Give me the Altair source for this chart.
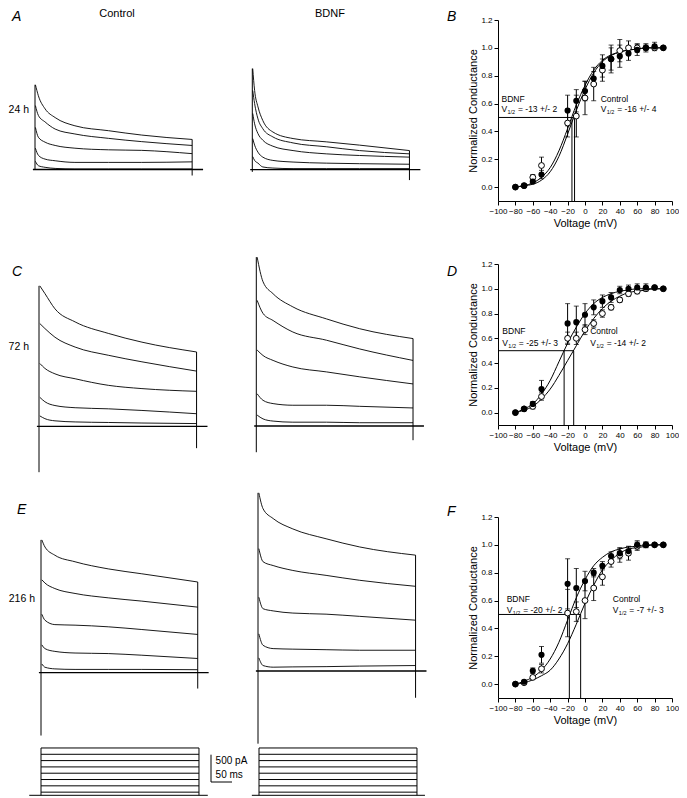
import altair as alt
import pandas as pd

FONT = "Liberation Sans"
KT = 2.38   # ms per pixel (50 ms scale bar ~ 21 px)
KI = 18.3   # pA per pixel (500 pA scale bar ~ 27 px)
KV = 3.17   # mV per pixel in the protocol panels

# ---------------- current traces (5 per panel, largest first) ----------------
A_ctrl_t = [1, 8, 24, 48, 95, 175, 254, 374]
A_ctrl_I = [
    [1550, 1350, 1110, 950, 800, 710, 630, 550],
    [1170, 990, 870, 740, 650, 570, 510, 440],
    [770, 590, 500, 440, 390, 360, 350, 290],
    [390, 260, 190, 160, 130, 130, 130, 140],
    [150, 70, 40, 20, 10, 10, 10, 10],
]
A_ctrl_spike = [0, -110]
A_bdnf_t = [1, 5.5, 13.5, 25, 49, 97, 176, 255, 374]
A_bdnf_I = [
    [1850, 1450, 1150, 900, 690, 570, 510, 450, 350],
    [1450, 1210, 930, 750, 600, 490, 420, 350, 290],
    [1030, 840, 660, 540, 430, 350, 290, 260, 230],
    [570, 450, 320, 230, 170, 140, 120, 110, 100],
    [240, 170, 120, 50, 30, 20, 20, 20, 20],
]
A_bdnf_spike = [-40, -190]
C_ctrl_t = [2, 14, 38, 86, 165, 245, 375]
C_ctrl_I = [
    [2570, 2430, 2150, 1910, 1700, 1540, 1360],
    [1880, 1790, 1630, 1450, 1300, 1180, 1010],
    [1150, 1060, 960, 870, 750, 690, 640],
    [530, 450, 380, 340, 320, 290, 230],
    [190, 140, 100, 80, 70, 60, 50],
]
C_ctrl_spike = [-840, -400]
C_bdnf_t = [2, 16, 40, 87, 167, 246, 373]
C_bdnf_I = [
    [3090, 2640, 2420, 2180, 1960, 1780, 1600],
    [2300, 2060, 1930, 1720, 1570, 1410, 1200],
    [1390, 1290, 1200, 1080, 990, 900, 770],
    [590, 470, 410, 380, 380, 360, 330],
    [200, 130, 90, 70, 70, 60, 60],
]
C_bdnf_spike = [-480, -260]
E_ctrl_t = [2, 9.5, 33, 81, 160, 240, 373]
E_ctrl_I = [
    [2430, 2300, 2150, 2030, 1900, 1810, 1660],
    [1700, 1640, 1540, 1450, 1370, 1310, 1200],
    [1070, 960, 880, 870, 840, 790, 700],
    [510, 440, 390, 360, 350, 320, 260],
    [160, 100, 70, 60, 60, 60, 55],
]
E_ctrl_spike = [-1150, -290]
E_bdnf_t = [2, 12, 36, 83, 162, 242, 375]
E_bdnf_I = [
    [3260, 2970, 2790, 2600, 2420, 2270, 2120],
    [2240, 2000, 1930, 1840, 1750, 1660, 1550],
    [1350, 1140, 1100, 1060, 1040, 1000, 930],
    [680, 470, 410, 400, 390, 380, 380],
    [240, 100, 70, 75, 80, 90, 100],
]
E_bdnf_spike = [-1330, -490]
TRACE_BASE = [-5, 26]   # baseline drawn from 5 ms before onset to 26 ms after the step

# ---------------- conductance-voltage data ----------------
V = [-80, -70, -60, -50, -20, -10, 0, 10, 20, 30, 40, 50, 60, 70, 80, 90]
VFIT = [-80, -70, -60, -50, -40, -30, -20, -10, 0, 10, 20, 30, 40, 50, 60, 70, 80, 90]

B_bdnf = [0.0, 0.01, 0.04, 0.09, 0.55, 0.62, 0.69, 0.78, 0.87, 0.92, 0.94, 0.96, 0.985, 1.0, 1.01, 1.0]
B_bdnf_err = [0, 0.01, 0.01, 0.03, 0.11, 0.08, 0.07, 0.05, 0.08, 0.1, 0.08, 0.05, 0.04, 0.03, 0.03, 0]
B_ctrl = [0.0, 0.01, 0.07, 0.155, 0.46, 0.51, 0.64, 0.74, 0.84, 0.92, 0.98, 1.0, 1.0, 1.0, 1.0, 1.0]
B_ctrl_err = [0, 0.01, 0.02, 0.06, 0.1, 0.15, 0.12, 0.12, 0.08, 0.08, 0.08, 0.05, 0.03, 0.02, 0.01, 0]
B_fit_1 = [0.0, 0.01, 0.03, 0.07, 0.14, 0.26, 0.42, 0.59, 0.73, 0.84, 0.91, 0.95, 0.97, 0.985, 0.99, 1.0, 1.0, 1.0]
B_fit_2 = [0.0, 0.01, 0.02, 0.05, 0.11, 0.22, 0.38, 0.55, 0.70, 0.82, 0.90, 0.945, 0.97, 0.985, 0.99, 1.0, 1.0, 1.0]
B_half = [-15, -12]
B_text = {"BDNF": (-96, 0.63, 0.56, "= -13 +/- 2"), "Control": (18, 0.63, 0.56, "= -16 +/- 4")}

D_bdnf = [0.0, 0.03, 0.07, 0.19, 0.72, 0.73, 0.79, 0.85, 0.90, 0.93, 0.99, 1.0, 1.01, 1.01, 1.01, 1.0]
D_bdnf_err = [0, 0.01, 0.02, 0.07, 0.16, 0.13, 0.09, 0.06, 0.05, 0.04, 0.03, 0.03, 0.03, 0.03, 0.01, 0]
D_ctrl = [0.0, 0.03, 0.05, 0.13, 0.60, 0.60, 0.67, 0.72, 0.80, 0.85, 0.91, 0.96, 0.98, 1.0, 1.01, 1.0]
D_ctrl_err = [0, 0.01, 0.02, 0.03, 0.05, 0.05, 0.04, 0.03, 0.03, 0.02, 0.02, 0.02, 0.02, 0.01, 0.01, 0]
D_fit_1 = [0.0, 0.03, 0.07, 0.15, 0.26, 0.41, 0.56, 0.69, 0.80, 0.88, 0.93, 0.96, 0.98, 0.99, 1.0, 1.0, 1.0, 1.0]
D_fit_2 = [0.0, 0.02, 0.05, 0.11, 0.19, 0.30, 0.42, 0.54, 0.66, 0.76, 0.84, 0.90, 0.94, 0.97, 0.98, 0.99, 1.0, 1.0]
D_half = [-24, -13]
D_text = {"BDNF": (-95, 0.66, 0.56, "= -25 +/- 3"), "Control": (6, 0.66, 0.56, "= -14 +/- 2")}

F_bdnf = [0.0, 0.017, 0.096, 0.21, 0.72, 0.69, 0.74, 0.80, 0.85, 0.92, 0.94, 0.955, 1.0, 1.0, 1.0, 1.0]
F_bdnf_err = [0, 0.01, 0.02, 0.06, 0.18, 0.14, 0.07, 0.03, 0.03, 0.03, 0.04, 0.03, 0.03, 0.02, 0.01, 0]
F_ctrl = [0.0, 0.01, 0.048, 0.11, 0.51, 0.52, 0.60, 0.69, 0.77, 0.88, 0.925, 0.94, 0.99, 1.0, 1.0, 1.0]
F_ctrl_err = [0, 0.01, 0.01, 0.03, 0.17, 0.07, 0.13, 0.09, 0.06, 0.04, 0.05, 0.05, 0.03, 0.02, 0.01, 0]
F_fit_1 = [0.0, 0.02, 0.05, 0.10, 0.18, 0.30, 0.46, 0.62, 0.75, 0.85, 0.91, 0.95, 0.97, 0.985, 0.99, 1.0, 1.0, 1.0]
F_fit_2 = [0.0, 0.01, 0.03, 0.06, 0.10, 0.18, 0.29, 0.43, 0.58, 0.71, 0.82, 0.89, 0.94, 0.97, 0.98, 0.99, 1.0, 1.0]
F_half = [-18, -5]
F_text = {"BDNF": (-90, 0.61, 0.53, "= -20 +/- 2"), "Control": (32, 0.61, 0.53, "= -7 +/- 3")}

# ---------------- voltage protocol and scale bar ----------------
PROT_LEVELS = [-70, -50, -30, -10, 10, 30, 50, 70]
PROT_HOLD = -80
PROT_DUR = 376
PROT_CTRL_EXT = [-28, 21]
PROT_BDNF_EXT = [-17, 19]
SCALE_PA = 500
SCALE_MS = 50

# ---------------- layout (pixels) ----------------
ROW_TOP = [18, 262, 515, 746]
ROW_H = [244, 253, 231, 47]
COL_LEFT = [25, 242, 498]
COL_W = [217, 256, 174]
GV_H = [181, 161, 181]


def text_layer(txt, x, y, size, align="left", baseline="middle", style="normal"):
    return alt.Chart(pd.DataFrame({"s": [txt]})).mark_text(
        align=align, baseline=baseline, fontSize=size, fontStyle=style, color="black"
    ).encode(x=alt.value(x), y=alt.value(y), text="s:N")


def trace_panel(t, I, spike, row, col, onset_x, base_y, texts):
    left, w = COL_LEFT[col], COL_W[col]
    top, h = ROW_TOP[row], ROW_H[row]
    t0 = -(onset_x - left) * KT
    xsc = alt.Scale(domain=[t0, t0 + w * KT], nice=False, zero=False)
    i_top = (base_y - top) * KI
    ysc = alt.Scale(domain=[i_top - h * KI, i_top], nice=False, zero=False)
    rows = []
    for k, series in enumerate(I):
        for j, (tt, ii) in enumerate(zip(t, series)):
            rows.append({"k": k, "j": j, "t": tt, "I": ii})
    df = pd.DataFrame(rows)
    t_end = t[-1]

    def X(f):
        return alt.X(f, scale=xsc, axis=None)

    def Y(f):
        return alt.Y(f, scale=ysc, axis=None)

    lines = alt.Chart(df).mark_line(color="black", strokeWidth=0.9, interpolate="monotone").encode(
        x=X("t:Q"), y=Y("I:Q"), detail="k:N", order="j:Q")
    vdf = pd.DataFrame({"t": [0, t_end], "a": [spike[0], spike[1]],
                        "b": [max(s[0] for s in I), I[0][-1]]})
    vr = alt.Chart(vdf).mark_rule(color="black", strokeWidth=1).encode(x=X("t:Q"), y=Y("a:Q"), y2="b:Q")
    bdf = pd.DataFrame({"a": [TRACE_BASE[0]], "b": [t_end + TRACE_BASE[1]], "y": [0]})
    br = alt.Chart(bdf).mark_rule(color="black", strokeWidth=1.3).encode(x=X("a:Q"), x2="b:Q", y=Y("y:Q"))
    layers = [br, lines, vr] + [text_layer(*tx) for tx in texts]
    return alt.layer(*layers).properties(width=w, height=h)


def gv_panel(row, bd, bde, ct, cte, f1, f2, half, labels, letter, letter_y):
    xsc = alt.Scale(domain=[-100, 100], nice=False, zero=False)
    ysc = alt.Scale(domain=[-0.1, 1.2], nice=False, zero=False)
    xax = alt.Axis(values=list(range(-100, 101, 20)), title="Voltage (mV)", grid=False,
                   labelOverlap=False, labelFlush=False)
    yax = alt.Axis(values=[0, 0.2, 0.4, 0.6, 0.8, 1.0, 1.2], format=".1f",
                   title="Normalized Conductance", grid=False, labelOverlap=False, labelFlush=False)

    def X(f):
        return alt.X(f, scale=xsc, axis=xax)

    def Y(f):
        return alt.Y(f, scale=ysc, axis=yax)

    hdf = pd.DataFrame({"a": [-100], "b": [max(half)], "y": [0.5]})
    hr = alt.Chart(hdf).mark_rule(color="black", strokeWidth=1).encode(x=X("a:Q"), x2="b:Q", y=Y("y:Q"))
    vdf = pd.DataFrame({"v": half, "a": [-0.1, -0.1], "b": [0.5, 0.5]})
    vr = alt.Chart(vdf).mark_rule(color="black", strokeWidth=1).encode(x=X("v:Q"), y=Y("a:Q"), y2="b:Q")
    fdf = pd.DataFrame({"v": VFIT * 2, "g": f1 + f2, "c": ["1"] * len(VFIT) + ["2"] * len(VFIT)})
    fit = alt.Chart(fdf).mark_line(color="black", strokeWidth=1, interpolate="monotone").encode(
        x=X("v:Q"), y=Y("g:Q"), detail="c:N")
    rows = []
    for s, vals, errs in (("ctrl", ct, cte), ("bdnf", bd, bde)):
        for v, g, e in zip(V, vals, errs):
            rows.append({"s": s, "v": v, "g": g, "lo": g - e, "hi": g + e, "e": e})
    df = pd.DataFrame(rows)
    edf = df[df["e"] > 0]
    er = alt.Chart(edf).mark_rule(color="black", strokeWidth=1).encode(x=X("v:Q"), y=Y("lo:Q"), y2="hi:Q")
    cap_hi = alt.Chart(edf).mark_tick(color="black", orient="horizontal", size=5, thickness=1).encode(
        x=X("v:Q"), y=Y("hi:Q"))
    cap_lo = alt.Chart(edf).mark_tick(color="black", orient="horizontal", size=5, thickness=1).encode(
        x=X("v:Q"), y=Y("lo:Q"))
    op = alt.Chart(df[df["s"] == "ctrl"]).mark_circle(
        fill="white", stroke="black", strokeWidth=1, size=34, opacity=1).encode(x=X("v:Q"), y=Y("g:Q"))
    fl = alt.Chart(df[df["s"] == "bdnf"]).mark_circle(
        color="black", size=38, opacity=1).encode(x=X("v:Q"), y=Y("g:Q"))
    lrows = [{"name": k, "x": v[0], "y1": v[1], "y2": v[2], "rest": v[3]} for k, v in labels.items()]
    ldf = pd.DataFrame(lrows)
    t_name = alt.Chart(ldf).mark_text(align="left", baseline="middle", fontSize=8.5, color="black").encode(
        x=X("x:Q"), y=Y("y1:Q"), text="name:N")
    t_v = alt.Chart(ldf).mark_text(align="left", baseline="middle", fontSize=8.5, color="black").encode(
        x=X("x:Q"), y=Y("y2:Q"), text=alt.value("V"))
    t_sub = alt.Chart(ldf).mark_text(align="left", baseline="middle", fontSize=5.5, dx=6, dy=3,
                                     color="black").encode(x=X("x:Q"), y=Y("y2:Q"), text=alt.value("1/2"))
    t_rest = alt.Chart(ldf).mark_text(align="left", baseline="middle", fontSize=8.5, dx=16.5,
                                      color="black").encode(x=X("x:Q"), y=Y("y2:Q"), text="rest:N")
    let = text_layer(letter, -51, letter_y, 14, baseline="top", style="italic")
    return alt.layer(hr, vr, fit, er, cap_hi, cap_lo, op, fl, t_name, t_v, t_sub, t_rest, let).properties(
        width=COL_W[2], height=GV_H[row])


def prot_panel(col, onset_x, ext, with_scale):
    left, w = COL_LEFT[col], COL_W[col]
    top, h = ROW_TOP[3], ROW_H[3]
    t0 = -(onset_x - left) * KT
    xsc = alt.Scale(domain=[t0, t0 + w * KT], nice=False, zero=False)
    vb = PROT_HOLD + (793.3 - (top + h)) * KV
    ysc = alt.Scale(domain=[vb, vb + h * KV], nice=False, zero=False)
    hdf = pd.DataFrame({"a": [0] * len(PROT_LEVELS) + [ext[0]],
                        "b": [PROT_DUR] * len(PROT_LEVELS) + [PROT_DUR + ext[1]],
                        "v": PROT_LEVELS + [PROT_HOLD]})
    hl = alt.Chart(hdf).mark_rule(color="black", strokeWidth=1).encode(
        x=alt.X("a:Q", scale=xsc, axis=None), x2="b:Q", y=alt.Y("v:Q", scale=ysc, axis=None))
    vdf = pd.DataFrame({"a": [0, PROT_DUR], "lo": [PROT_HOLD] * 2, "hi": [max(PROT_LEVELS)] * 2})
    vl = alt.Chart(vdf).mark_rule(color="black", strokeWidth=1).encode(
        x=alt.X("a:Q", scale=xsc, axis=None), y=alt.Y("lo:Q", scale=ysc, axis=None), y2="hi:Q")
    if with_scale:
        sx0 = -(211 - left) * KT
        sxs = alt.Scale(domain=[sx0, sx0 + w * KT], nice=False, zero=False)
        sy1 = (780 - top) * KI
        sys = alt.Scale(domain=[sy1 - h * KI, sy1], nice=False, zero=False)
        sdf = pd.DataFrame({"x1": [0, 0], "x2": [0, SCALE_MS], "y1": [0, 0], "y2": [SCALE_PA, 0]})
        sb = alt.Chart(sdf).mark_rule(color="black", strokeWidth=1).encode(
            x=alt.X("x1:Q", scale=sxs, axis=None), x2="x2:Q",
            y=alt.Y("y1:Q", scale=sys, axis=None), y2="y2:Q")
        tdf = pd.DataFrame({"x": [11, 11], "y": [378, 134], "s": [f"{SCALE_PA} pA", f"{SCALE_MS} ms"]})
        st = alt.Chart(tdf).mark_text(align="left", baseline="middle", fontSize=10, color="black").encode(
            x=alt.X("x:Q", scale=sxs, axis=None), y=alt.Y("y:Q", scale=sys, axis=None), text="s:N")
        return alt.layer(hl, vl, sb, st).resolve_scale(x="independent", y="independent").properties(
            width=w, height=h)
    return alt.layer(hl, vl).properties(width=w, height=h)


A_c = trace_panel(A_ctrl_t, A_ctrl_I, A_ctrl_spike, 0, 0, 35, 167.5, [
    ("A", -13, -10, 14, "left", "top", "italic"),
    ("Control", 92, -6, 11, "center"),
    ("24 h", 4, 90, 10.5, "right"),
])
A_b = trace_panel(A_bdnf_t, A_bdnf_I, A_bdnf_spike, 0, 1, 252.3, 167.7, [
    ("BDNF", 88, -6, 11, "center"),
])
C_c = trace_panel(C_ctrl_t, C_ctrl_I, C_ctrl_spike, 1, 0, 39, 424.3, [
    ("C", -13, 1, 14, "left", "top", "italic"),
    ("72 h", 4, 83, 10.5, "right"),
])
C_b = trace_panel(C_bdnf_t, C_bdnf_I, C_bdnf_spike, 1, 1, 256.3, 424, [])
E_c = trace_panel(E_ctrl_t, E_ctrl_I, E_ctrl_spike, 2, 0, 41, 670.7, [
    ("E", -8, -14, 14, "left", "top", "italic"),
    ("216 h", 10, 82, 10.5, "right"),
])
E_b = trace_panel(E_bdnf_t, E_bdnf_I, E_bdnf_spike, 2, 1, 258, 669, [])

B_gv = gv_panel(0, B_bdnf, B_bdnf_err, B_ctrl, B_ctrl_err, B_fit_1, B_fit_2, B_half, B_text, "B", -10)
D_gv = gv_panel(1, D_bdnf, D_bdnf_err, D_ctrl, D_ctrl_err, D_fit_1, D_fit_2, D_half, D_text, "D", 1)
F_gv = gv_panel(2, F_bdnf, F_bdnf_err, F_ctrl, F_ctrl_err, F_fit_1, F_fit_2, F_half, F_text, "F", -12)

P_c = prot_panel(0, 41, PROT_CTRL_EXT, True)
P_b = prot_panel(1, 259, PROT_BDNF_EXT, False)

chart = alt.concat(
    A_c, A_b, B_gv,
    C_c, C_b, D_gv,
    E_c, E_b, F_gv,
    P_c, P_b,
    columns=3, spacing=0, bounds="flush", align="each",
).properties(padding=0).configure(font=FONT).configure_view(stroke=None).configure_axis(
    labelFontSize=8, titleFontSize=11, titleFontWeight="normal", labelColor="black", titleColor="black",
    tickColor="black", domainColor="black", tickSize=4, labelPadding=2, titlePadding=2,
    domainWidth=1, tickWidth=1,
)

chart.save("out.html", embed_options={"renderer": "svg", "actions": False})
